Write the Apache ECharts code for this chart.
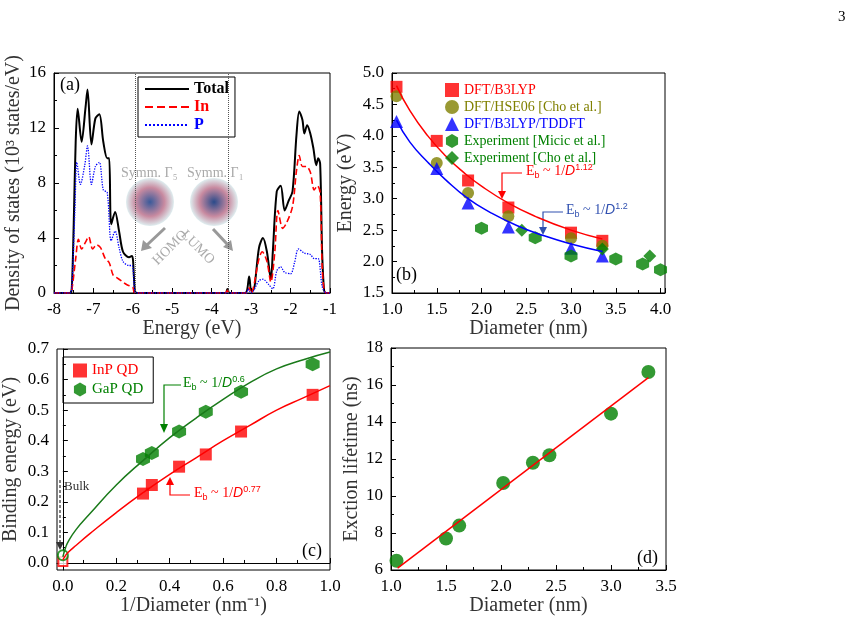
<!DOCTYPE html><html><head><meta charset="utf-8"><script src="https://cdn.jsdelivr.net/npm/echarts@6/dist/echarts.min.js"></script>
<style>html,body{margin:0;background:#fff}#c{width:856px;height:626px}</style></head><body><div id="c"></div><script>
// (a) DOS
const dosTotal=[[-8,0],[-7.6,0],[-7.55,0.3],[-7.5,5],[-7.45,11],[-7.4,13.4],[-7.3,11],[-7.2,13.5],[-7.15,14.8],[-7.05,10.8],[-6.95,12.7],[-6.85,13],[-6.75,11],[-6.65,9.8],[-6.6,9.8],[-6.55,5],[-6.45,5.9],[-6.35,4.5],[-6.25,3],[-6.1,2.6],[-6.02,2.7],[-5.95,0.2],[-5.9,0],[-3.65,0],[-3.6,0.3],[-3.55,0],[-3.15,0],[-3.05,1.2],[-3.0,0.2],[-2.95,0.2],[-2.8,3.3],[-2.7,4],[-2.6,3],[-2.5,1],[-2.45,3],[-2.35,7.4],[-2.25,7.8],[-2.15,6],[-2.05,6.7],[-1.95,7.4],[-1.85,11.5],[-1.78,13.2],[-1.7,12.6],[-1.65,11.6],[-1.58,12.2],[-1.5,11.6],[-1.42,10.5],[-1.35,9.3],[-1.3,9.8],[-1.25,9.4],[-1.2,3],[-1.15,0.2],[-1.1,0],[-1,0]];
const dosIn=[[-8,0],[-7.6,0],[-7.55,0.2],[-7.45,2.5],[-7.38,3.9],[-7.3,3.2],[-7.2,3.7],[-7.12,4.1],[-7.02,3.2],[-6.92,3.5],[-6.82,3.3],[-6.7,2.5],[-6.6,2.2],[-6.5,1.3],[-6.4,1.1],[-6.3,0.9],[-6.15,0.6],[-6.0,0.4],[-5.95,0],[-3.65,0],[-3.6,0.2],[-3.55,0],[-3.1,0],[-3.05,0.4],[-3.0,0],[-2.8,2.5],[-2.72,3],[-2.6,2.3],[-2.5,0.8],[-2.4,3],[-2.32,6],[-2.2,4.7],[-2.1,5.1],[-1.95,6.3],[-1.85,8.9],[-1.78,10],[-1.7,9.2],[-1.6,9.2],[-1.5,8.8],[-1.4,7.5],[-1.32,7.8],[-1.25,7.3],[-1.2,2],[-1.15,0.2],[-1.1,0],[-1,0]];
const dosP=[[-8,0],[-7.6,0],[-7.55,0.3],[-7.47,6],[-7.42,9.5],[-7.33,7.9],[-7.22,9.3],[-7.15,10.7],[-7.05,7.9],[-6.95,9.2],[-6.85,9.5],[-6.75,7.5],[-6.65,7.3],[-6.55,3.8],[-6.45,4.5],[-6.35,3.3],[-6.25,2.3],[-6.1,2],[-6.02,2],[-5.95,0.1],[-5.9,0],[-3.12,0],[-3.08,0.3],[-3.0,0],[-2.8,0.9],[-2.7,1],[-2.55,0.6],[-2.45,0.3],[-2.35,1.6],[-2.25,1.9],[-2.15,1.5],[-2.0,1.4],[-1.9,2.2],[-1.8,3.2],[-1.65,2.9],[-1.5,2.8],[-1.4,2.5],[-1.3,2.5],[-1.2,0.5],[-1.1,0],[-1,0]];
const homoLumo=[-5.95,-3.57];
// (b)
const b3lyp=[[1.05,4.78],[1.5,3.92],[1.85,3.29],[2.3,2.86],[3.0,2.46],[3.35,2.33]];
const hse06=[[1.05,4.63],[1.5,3.57],[1.85,3.09],[2.3,2.72],[3.0,2.37],[3.35,2.25]];
const tddft=[[1.05,4.23],[1.5,3.48],[1.85,2.93],[2.3,2.55],[3.0,2.21],[3.35,2.09]];
const micic=[[2.0,2.53],[2.6,2.38],[3.0,2.09],[3.5,2.04],[3.8,1.96],[4.0,1.87]];
const cho=[[2.45,2.50],[3.35,2.2],[3.88,2.09]];
const fitRed=[[1.05,4.8],[1.2,4.4],[1.4,4.0],[1.6,3.68],[1.8,3.42],[2.0,3.2],[2.3,2.93],[2.6,2.72],[3.0,2.5],[3.35,2.36]];
const fitBlue=[[1.05,4.25],[1.2,3.9],[1.4,3.58],[1.6,3.3],[1.85,3.0],[2.1,2.78],[2.4,2.57],[2.7,2.41],[3.0,2.28],[3.35,2.16]];
// (c)
const inpQD=[[0.3,0.227],[0.333,0.255],[0.435,0.315],[0.535,0.355],[0.667,0.43],[0.935,0.55]];
const gapQD=[[0.3,0.34],[0.333,0.36],[0.435,0.43],[0.535,0.495],[0.667,0.56],[0.935,0.65]];
const inpBulk=[[0,0.005]], gapBulk=[[0,0.025]];
const fitGaP=[[0,0.02],[0.01,0.05],[0.02,0.07],[0.05,0.11],[0.1,0.16],[0.2,0.255],[0.3,0.335],[0.4,0.41],[0.5,0.475],[0.6,0.535],[0.7,0.59],[0.8,0.635],[0.9,0.665],[1.0,0.69]];
const fitInP=[[0,0.01],[0.01,0.025],[0.02,0.035],[0.05,0.058],[0.1,0.095],[0.2,0.165],[0.3,0.23],[0.4,0.29],[0.5,0.345],[0.6,0.4],[0.7,0.45],[0.8,0.5],[0.9,0.54],[1.0,0.58]];
// (d)
const lifetime=[[1.05,6.5],[1.5,7.7],[1.62,8.4],[2.02,10.7],[2.29,11.8],[2.44,12.2],[3.0,14.45],[3.34,16.7]];
const lifeFit=[[1.06,6.1],[3.34,16.4]];

const F='Liberation Serif';
const hex='path://M0,-10L8.66,-5L8.66,5L0,10L-8.66,5L-8.66,-5Z';
const dia='path://M0,-10L10,0L0,10L-10,0Z';
const red='#f00', olive='#808000', blue='#00f', green='#008000', dg='#1a7a1a';
const lab=(f)=>({color:'#000',fontFamily:F,fontSize:17,fontWeight:400,formatter:f});
function ax(o){return Object.assign({type:'value',axisLine:{show:true,lineStyle:{color:'#000'}},axisTick:{inside:true,lineStyle:{color:'#000'}},minorTick:{show:true,splitNumber:2,lineStyle:{color:'#000'}},splitLine:{show:false},axisLabel:lab(),nameTextStyle:{color:'#333',fontFamily:F,fontSize:20,fontWeight:400},nameLocation:'middle'},o);}
const f1=v=>v.toFixed(1);
const grids=[{left:54,top:73,width:276,height:220},{left:392,top:73,width:273,height:220},{left:55,top:349,width:275,height:221},{left:391,top:348,width:275,height:222}].map(g=>Object.assign(g,{show:true,borderColor:'#000',borderWidth:1}));
const cx=[0,0.2,0.4,0.6,0.8,1.0], cy=[0,0.1,0.2,0.3,0.4,0.5,0.6,0.7];
const opt={animation:false,textStyle:{fontFamily:F,fontWeight:400},grid:grids,
xAxis:[ax({gridIndex:0,min:-8,max:-1,interval:1,name:'Energy (eV)',nameGap:26}),ax({gridIndex:1,min:1,max:4.05,interval:0.5,name:'Diameter (nm)',nameGap:26,axisLabel:lab(f1)}),
ax({gridIndex:2,min:-0.022,max:1,interval:0.2,name:'1/Diameter (nm⁻¹)',nameGap:26,axisLabel:Object.assign(lab(f1),{customValues:cx}),axisTick:{inside:true,customValues:cx}}),
ax({gridIndex:3,min:1,max:3.5,interval:0.5,name:'Diameter (nm)',nameGap:26,axisLabel:lab(f1)})],
yAxis:[ax({gridIndex:0,min:0,max:16,interval:4,name:'Density of states (10³ states/eV)',nameGap:30}),ax({gridIndex:1,min:1.5,max:5,interval:0.5,name:'Energy (eV)',nameGap:36,axisLabel:lab(f1)}),
ax({gridIndex:2,min:-0.023,max:0.7,name:'Binding energy (eV)',nameGap:36,axisLabel:Object.assign(lab(f1),{customValues:cy}),axisTick:{inside:true,customValues:cy}}),
ax({gridIndex:3,min:6,max:18,interval:2,name:'Exction lifetime (ns)',nameGap:28})],
legend:[{left:138,top:77,orient:'vertical',itemGap:2,itemWidth:44,itemHeight:10,padding:[4,6],borderColor:'#000',borderWidth:1,itemStyle:{opacity:0},data:[{name:'Total',textStyle:{color:'#000'}},{name:'In',textStyle:{color:red}},{name:'P',textStyle:{color:blue}}],textStyle:{fontFamily:F,fontSize:16,fontWeight:'bold'}},
{left:440,top:78,orient:'vertical',itemGap:3,itemWidth:14,itemHeight:14,data:[{name:'DFT/B3LYP',textStyle:{color:red}},{name:'DFT/HSE06 [Cho et al.]',textStyle:{color:olive}},{name:'DFT/B3LYP/TDDFT',textStyle:{color:blue}},{name:'Experiment [Micic et al.]',textStyle:{color:green}},{name:'Experiment [Cho et al.]',textStyle:{color:green}}],textStyle:{fontFamily:F,fontSize:14,fontWeight:400}},
{left:63,top:357,orient:'vertical',itemGap:4,itemWidth:14,itemHeight:14,padding:[6,10],borderColor:'#000',borderWidth:1,data:[{name:'InP QD',textStyle:{color:red}},{name:'GaP QD',textStyle:{color:green}}],textStyle:{fontFamily:F,fontSize:15,fontWeight:400}}],
series:[
{name:'Total',type:'line',xAxisIndex:0,yAxisIndex:0,data:dosTotal,smooth:0.3,symbol:'none',lineStyle:{color:'#000',width:2},itemStyle:{color:'#000'},
 markLine:{silent:true,symbol:'none',label:{show:false},lineStyle:{color:'#555',type:'dotted',width:1},data:homoLumo.map(v=>({xAxis:v}))}},
{name:'In',type:'line',xAxisIndex:0,yAxisIndex:0,data:dosIn,smooth:0.3,symbol:'none',lineStyle:{color:red,width:1.6,type:'dashed'},itemStyle:{color:red}},
{name:'P',type:'line',xAxisIndex:0,yAxisIndex:0,data:dosP,smooth:0.3,symbol:'none',lineStyle:{color:blue,width:1.3,type:'dotted'},itemStyle:{color:blue}},
{type:'line',xAxisIndex:1,yAxisIndex:1,data:fitRed,smooth:true,symbol:'none',lineStyle:{color:red,width:1.5}},
{type:'line',xAxisIndex:1,yAxisIndex:1,data:fitBlue,smooth:true,symbol:'none',lineStyle:{color:blue,width:1.5}},
{name:'DFT/B3LYP',type:'scatter',xAxisIndex:1,yAxisIndex:1,data:b3lyp,symbol:'rect',symbolSize:12,itemStyle:{color:red}},
{name:'DFT/HSE06 [Cho et al.]',type:'scatter',xAxisIndex:1,yAxisIndex:1,data:hse06,symbol:'circle',symbolSize:12,itemStyle:{color:olive}},
{name:'DFT/B3LYP/TDDFT',type:'scatter',xAxisIndex:1,yAxisIndex:1,data:tddft,symbol:'triangle',symbolSize:13,itemStyle:{color:blue}},
{name:'Experiment [Micic et al.]',type:'scatter',xAxisIndex:1,yAxisIndex:1,data:micic,symbol:hex,symbolSize:13,itemStyle:{color:green}},
{name:'Experiment [Cho et al.]',type:'scatter',xAxisIndex:1,yAxisIndex:1,data:cho,symbol:dia,symbolSize:13,itemStyle:{color:green}},
{type:'line',xAxisIndex:2,yAxisIndex:2,data:fitGaP,smooth:true,symbol:'none',lineStyle:{color:dg,width:1.5}},
{type:'line',xAxisIndex:2,yAxisIndex:2,data:fitInP,smooth:true,symbol:'none',lineStyle:{color:red,width:1.5}},
{name:'InP QD',type:'scatter',xAxisIndex:2,yAxisIndex:2,data:inpQD,symbol:'rect',symbolSize:12,itemStyle:{color:red}},
{name:'GaP QD',type:'scatter',xAxisIndex:2,yAxisIndex:2,data:gapQD,symbol:hex,symbolSize:14,itemStyle:{color:green}},
{type:'scatter',xAxisIndex:2,yAxisIndex:2,data:inpBulk,symbol:'rect',symbolSize:9,itemStyle:{color:'#fff',borderColor:red,borderWidth:2}},
{type:'scatter',xAxisIndex:2,yAxisIndex:2,data:gapBulk,symbol:'circle',symbolSize:10,itemStyle:{color:'#fff',borderColor:green,borderWidth:2}},
{type:'line',xAxisIndex:3,yAxisIndex:3,data:lifeFit,symbol:'none',lineStyle:{color:red,width:1.5}},
{type:'scatter',xAxisIndex:3,yAxisIndex:3,data:lifetime,symbol:'circle',symbolSize:14,itemStyle:{color:green}}
],
graphic:[
{type:'text',left:838,top:10,style:{text:'3',font:'15px "Liberation Serif"',fill:'#000'}},
{type:'text',left:60,top:76,style:{text:'(a)',font:'18px "Liberation Serif"',fill:'#000'}},
{type:'text',left:396,top:266,style:{text:'(b)',font:'18px "Liberation Serif"',fill:'#000'}},
{type:'text',left:302,top:542,style:{text:'(c)',font:'18px "Liberation Serif"',fill:'#000'}},
{type:'text',left:637,top:549,style:{text:'(d)',font:'18px "Liberation Serif"',fill:'#000'}},
{type:'text',left:121,top:166,style:{text:'Symm. Γ₅',font:'14px "Liberation Serif"',fill:'#aaa'}},
{type:'text',left:187,top:166,style:{text:'Symm. Γ₁',font:'14px "Liberation Serif"',fill:'#aaa'}},
{type:'circle',shape:{cx:150,cy:202,r:24},style:{fill:{type:'radial',x:0.5,y:0.5,r:0.5,colorStops:[{offset:0,color:'#3a5a9a'},{offset:0.6,color:'#c88aa0'},{offset:1,color:'#dfeef0'}]}}},
{type:'circle',shape:{cx:214,cy:202,r:24},style:{fill:{type:'radial',x:0.5,y:0.5,r:0.5,colorStops:[{offset:0,color:'#2a4a8a'},{offset:0.6,color:'#c88aa0'},{offset:1,color:'#dfeef0'}]}}},
{type:'polyline',shape:{points:[[165,228],[147,245]]},style:{stroke:'#999',lineWidth:3}},
{type:'polygon',shape:{points:[[141,251],[143,240],[152,248]]},style:{fill:'#999'}},
{type:'polyline',shape:{points:[[213,229],[228,245]]},style:{stroke:'#999',lineWidth:3}},
{type:'polygon',shape:{points:[[233,251],[223,247],[231,240]]},style:{fill:'#999'}},
{type:'text',x:150,y:258,rotation:Math.PI/4,style:{text:'HOMO',font:'14px "Liberation Serif"',fill:'#aaa'}},
{type:'text',x:188,y:228,rotation:-Math.PI/4,style:{text:'LUMO',font:'14px "Liberation Serif"',fill:'#aaa'}},
{type:'polyline',shape:{points:[[522,173],[502,173],[502,194]]},style:{stroke:red,lineWidth:1.2,fill:null}},
{type:'polygon',shape:{points:[[498,191],[506,191],[502,199]]},style:{fill:red}},
{type:'text',left:526,top:163,style:{text:'E{s|b} ~ 1/{i|D}{p|1.12}',font:'14px "Liberation Serif"',fill:red,rich:{s:{fontSize:9,padding:[8,0,0,0],fill:red},i:{fontStyle:'italic',fontSize:14,fill:red},p:{fontSize:9,padding:[0,0,8,0],fill:red}}}},
{type:'polyline',shape:{points:[[563,212],[543,212],[543,230]]},style:{stroke:'#3050b0',lineWidth:1.2,fill:null}},
{type:'polygon',shape:{points:[[539,227],[547,227],[543,235]]},style:{fill:'#3050b0'}},
{type:'text',left:566,top:202,style:{text:'E{s|b} ~ 1/{i|D}{p|1.2}',font:'14px "Liberation Serif"',fill:'#3050b0',rich:{s:{fontSize:9,padding:[8,0,0,0],fill:'#3050b0'},i:{fontStyle:'italic',fontSize:14,fill:'#3050b0'},p:{fontSize:9,padding:[0,0,8,0],fill:'#3050b0'}}}},
{type:'polyline',shape:{points:[[181,385],[164,385],[164,428]]},style:{stroke:green,lineWidth:1.2,fill:null}},
{type:'polygon',shape:{points:[[160,424],[168,424],[164,433]]},style:{fill:green}},
{type:'text',left:183,top:375,style:{text:'E{s|b} ~ 1/{i|D}{p|0.6}',font:'14px "Liberation Serif"',fill:green,rich:{s:{fontSize:9,padding:[8,0,0,0],fill:green},i:{fontStyle:'italic',fontSize:14,fill:green},p:{fontSize:9,padding:[0,0,8,0],fill:green}}}},
{type:'polyline',shape:{points:[[190,495],[170,495],[170,482]]},style:{stroke:red,lineWidth:1.2,fill:null}},
{type:'polygon',shape:{points:[[166,485],[174,485],[170,477]]},style:{fill:red}},
{type:'text',left:194,top:485,style:{text:'E{s|b} ~ 1/{i|D}{p|0.77}',font:'14px "Liberation Serif"',fill:red,rich:{s:{fontSize:9,padding:[8,0,0,0],fill:red},i:{fontStyle:'italic',fontSize:14,fill:red},p:{fontSize:9,padding:[0,0,8,0],fill:red}}}},
{type:'text',left:64,top:480,style:{text:'Bulk',font:'13px "Liberation Serif"',fill:'#333'}},
{type:'polyline',shape:{points:[[60,480],[60,545]]},style:{stroke:'#000',lineWidth:1,lineDash:[3,2],fill:null}},
{type:'polygon',shape:{points:[[56,542],[64,542],[60,550]]},style:{fill:'#333'}}
]};
echarts.init(document.getElementById('c')).setOption(opt);
</script></body></html>
